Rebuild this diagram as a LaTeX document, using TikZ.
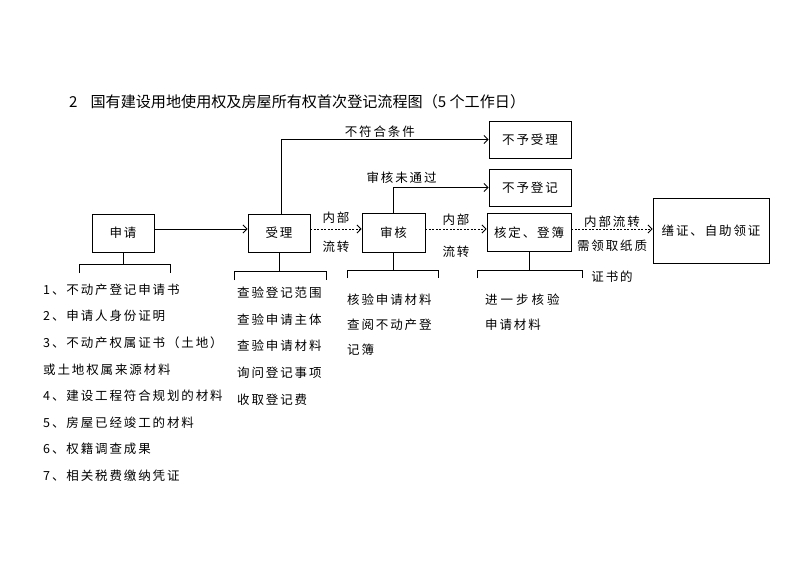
\documentclass[tikz,border=0pt]{standalone}
\usepackage{fontspec}
\usetikzlibrary{arrows.meta}
\newfontfamily\cjk[LetterSpace=15]{Noto Sans CJK SC}
\newfontfamily\cjktitle{Noto Sans CJK SC}

\tikzset{
  box/.style={draw, line width=.9pt, inner sep=0pt, font=\cjk\fontsize{12.5}{15}\selectfont},
  link/.style={line width=.9pt, -{Straight Barb[length=4pt,width=8pt]}},
  inner/.style={link, dash pattern=on 2pt off 1.5pt},
  lbl/.style={font=\cjk\fontsize{12.5}{15}\selectfont, inner sep=1pt},
  lst/.style={font=\cjk\fontsize{12.5}{26.6}\selectfont, align=left, anchor=north west, inner sep=0pt},
  brk/.style={line width=.9pt}
}

\begin{document}
\begin{tikzpicture}[x=1pt,y=-1pt]
\useasboundingbox (0,0) rectangle (800,566);

% title
\node[anchor=west, inner sep=0pt, font=\cjktitle\fontsize{15.1}{17}\selectfont] (title) at (69,102)
  {2\hspace{13pt}国有建设用地使用权及房屋所有权首次登记流程图（5 个工作日）};

% main boxes
\node[box, minimum width=62pt, minimum height=38pt] (shenqing) at (123,233) {申请};
\node[box, minimum width=62pt, minimum height=38pt] (shouli) at (279,233) {受理};
\node[box, minimum width=63pt, minimum height=39pt] (shenhe) at (393.5,232.5) {审核};
\node[box, minimum width=84pt, minimum height=38pt] (heding) at (529,232.5) {核定、登簿};
\node[box, minimum width=116pt, minimum height=65pt] (shanzheng) at (711,230.5) {缮证、自助领证};
\node[box, minimum width=82pt, minimum height=37pt] (buyushouli) at (530,139.5) {不予受理};
\node[box, minimum width=82pt, minimum height=37pt] (buyudengji) at (530,187.5) {不予登记};

\coordinate (row) at (0,229);

% flow
\draw[link] (shenqing.east |- row) -- (shouli.west |- row);
\draw[inner] (shouli.east |- row) -- (shenhe.west |- row)
  node[lbl, midway, above=4pt] {内部} node[lbl, midway, below=11pt] {流转};
\draw[inner] (shenhe.east |- row) -- (heding.west |- row)
  node[lbl, midway, above=2pt] {内部} node[lbl, midway, below=16pt] {流转};
\draw[inner] (heding.east |- row) -- (shanzheng.west |- row)
  node[lbl, midway, above=0pt] {内部流转} node[lbl, midway, below=10pt] {需领取纸质}
  node[lbl, midway, below=40pt] {证书的};

\draw[link] ([xshift=2pt]shouli.north) |- (buyushouli.west)
  node[lbl, pos=.75, above=1pt, xshift=-5pt] {不符合条件};
\draw[link] (shenhe.north) |- (buyudengji.west)
  node[lbl, pos=.5, above=3pt, xshift=8pt] {审核未通过};

% brackets
\draw[brk] (shenqing.south) -- (shenqing.south |- 0,264);
\draw[brk] (79,273) |- (170,264) -- (170,273);
\draw[brk] (shouli.south) -- (shouli.south |- 0,271);
\draw[brk] (234,280) |- (326,271) -- (326,280);
\draw[brk] (shenhe.south) -- (shenhe.south |- 0,270);
\draw[brk] (347,278) |- (438,270) -- (438,278);
\draw[brk] (heding.south) -- (heding.south |- 0,270);
\draw[brk] (477,278) |- (582,270) -- (582,278);

% lists
\node[lst] (cailiao) at (43,283.5) {1、不动产登记申请书\\2、申请人身份证明\\3、不动产权属证书（土地）\\或土地权属来源材料\\4、建设工程符合规划的材料\\5、房屋已经竣工的材料\\6、权籍调查成果\\7、相关税费缴纳凭证};
\node[lst] (shouliitems) at (237,287) {查验登记范围\\查验申请主体\\查验申请材料\\询问登记事项\\收取登记费};
\node[lst, font=\cjk\fontsize{12.5}{25}\selectfont] (shenheitems) at (347,294) {核验申请材料\\查阅不动产登\\记簿};
\node[lst, font=\cjk\fontsize{12.5}{25}\selectfont] (heditems) at (485,294) {进\hspace{3pt}一\hspace{3pt}步\hspace{3pt}核\hspace{3pt}验\\申请材料};
\end{tikzpicture}
\end{document}
